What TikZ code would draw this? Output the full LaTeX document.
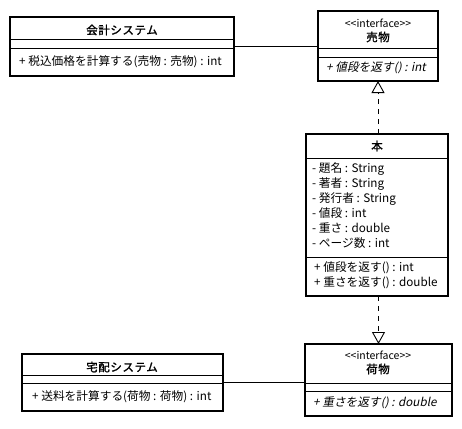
\documentclass[tikz,border=0pt]{standalone}
\usepackage{fontspec}
\setmainfont{Noto Sans CJK JP}
\newfontfamily\jpit{Noto Sans CJK JP}[FakeSlant=0.2]
\newfontfamily\jpbold{Noto Sans CJK JP}[FakeBold=1.5,LetterSpace=5]
\usetikzlibrary{arrows.meta}
\tikzset{
  classbox/.style={draw, line width=2pt, inner sep=0pt, outer sep=0pt, fill=white},
  sepline/.style={line width=0.9pt},
  titletext/.style={inner sep=0pt, font=\jpbold\fontsize{11.5}{13}\selectfont},
  stereo/.style={inner sep=0pt, font=\fontsize{10.5}{12}\selectfont},
  member/.style={inner sep=0pt, anchor=west, font=\fontsize{11.7}{13}\selectfont},
  abstractm/.style={inner sep=0pt, anchor=west, font=\jpit\fontsize{11.7}{13}\selectfont},
  assoc/.style={line width=0.9pt},
  realize/.style={line width=0.9pt, dash pattern=on 5pt off 5pt,
    -{Triangle[open, width=13pt, length=12pt, line width=0.9pt, fill=white]}}
}
\begin{document}
\begin{tikzpicture}[x=1pt,y=-1pt]
\useasboundingbox[fill=white] (0,0) rectangle (462,428);

% 会計システム
\node[classbox, minimum width=224pt, minimum height=59pt, anchor=north west] (A) at (10,17) {};
\draw[sepline] (A.west |- 0,39) -- (A.east |- 0,39);
\draw[sepline] (A.west |- 0,48) -- (A.east |- 0,48);
\node[titletext] (At) at (122,30) {会計システム};
\node[member] (Am) at (19,62) {+ 税込価格を計算する(売物 : 売物) : int};

% 売物
\node[classbox, minimum width=120pt, minimum height=70pt, anchor=north west] (B) at (318,11) {};
\node[stereo] (Bs) at (378,23) {<{}<interface>{}>};
\node[titletext] (Bt) at (378,37) {売物};
\draw[sepline] (B.west |- 0,48) -- (B.east |- 0,48);
\draw[sepline] (B.west |- 0,57) -- (B.east |- 0,57);
\node[abstractm] (Bm) at (326,68) {+ 値段を返す() : int};

% 本
\node[classbox, minimum width=142pt, minimum height=162pt, anchor=north west] (C) at (306,134) {};
\node[titletext] (Ct) at (377,146) {本};
\draw[sepline] (C.west |- 0,158) -- (C.east |- 0,158);
\node[member] (C1) at (312,169) {- 題名 : String};
\node[member] (C2) at (312,184) {- 著者 : String};
\node[member] (C3) at (312,199) {- 発行者 : String};
\node[member] (C4) at (312,213) {- 値段 : int};
\node[member] (C5) at (312,228) {- 重さ : double};
\node[member] (C6) at (312,243) {- ページ数 : int};
\draw[sepline] (C.west |- 0,257) -- (C.east |- 0,257);
\node[member] (C7) at (314,268) {+ 値段を返す() : int};
\node[member] (C8) at (314,283) {+ 重さを返す() : double};

% 荷物
\node[classbox, minimum width=147pt, minimum height=72pt, anchor=north west] (D) at (305,344) {};
\node[stereo] (Ds) at (378,355) {<{}<interface>{}>};
\node[titletext] (Dt) at (378,369) {荷物};
\draw[sepline] (D.west |- 0,383) -- (D.east |- 0,383);
\draw[sepline] (D.west |- 0,391) -- (D.east |- 0,391);
\node[abstractm] (Dm) at (313,403) {+ 重さを返す() : double};

% 宅配システム
\node[classbox, minimum width=201pt, minimum height=57pt, anchor=north west] (E) at (22,354) {};
\node[titletext] (Et) at (122,367) {宅配システム};
\draw[sepline] (E.west |- 0,375) -- (E.east |- 0,375);
\draw[sepline] (E.west |- 0,383) -- (E.east |- 0,383);
\node[member] (Em) at (32,397) {+ 送料を計算する(荷物 : 荷物) : int};

% connectors
\draw[assoc] (A.east) -- (A.east -| B.west);
\draw[assoc] (E.east) -- (E.east -| D.west);
\draw[realize] (C.north -| B.south) -- (B.south);
\draw[realize] (C.south -| D.north) -- (D.north);
\end{tikzpicture}
\end{document}
